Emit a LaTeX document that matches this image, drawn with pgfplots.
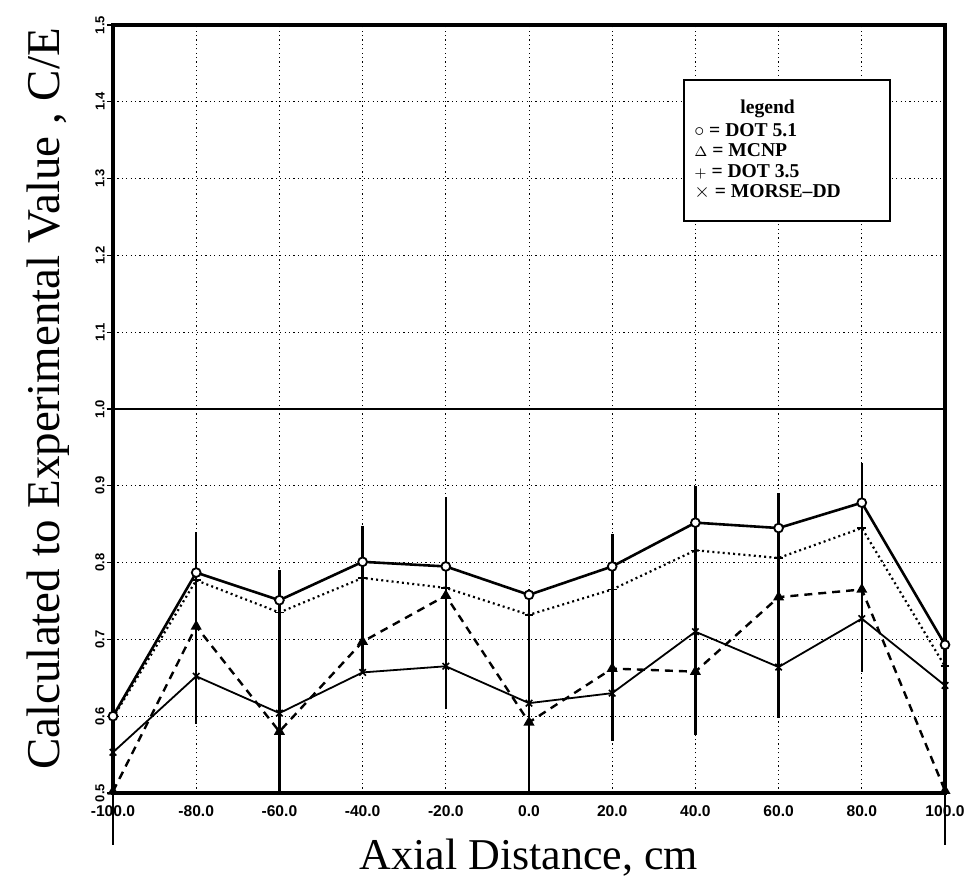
\documentclass[border=0pt]{standalone}
\usepackage{fontspec}
\setmainfont{Liberation Serif}
\newfontfamily\tickfont{Liberation Sans}
\usepackage{pgfplots}
\pgfplotsset{compat=1.18}
\begin{document}
\begin{tikzpicture}
\useasboundingbox (-56.5pt,-44.5pt) rectangle (428pt,396.5pt);
\begin{axis}[
  scale only axis, width=416pt, height=384pt,
  xmin=-100, xmax=100, ymin=0.5, ymax=1.5,
  clip=false,
  axis line style={line width=1.6pt},
  grid=major,
  grid style={black, line width=0.5pt, dash pattern=on 0.6pt off 1.6pt},
  xtick={-100,-80,-60,-40,-20,0,20,40,60,80,100},
  xticklabels={-100.0,-80.0,-60.0,-40.0,-20.0,0.0,20.0,40.0,60.0,80.0,100.0},
  ytick={0.5,0.6,0.7,0.8,0.9,1.0,1.1,1.2,1.3,1.4,1.5},
  yticklabels={0.5,0.6,0.7,0.8,0.9,1.0,1.1,1.2,1.3,1.4,1.5},
  tick pos=left,
  tick align=outside, major tick length=3pt,
  xtick style={draw=none},
  ytick style={black, line width=0.6pt},
  xticklabel style={font=\tickfont\bfseries\fontsize{7.8}{8.5}\selectfont},
  yticklabel style={font=\tickfont\bfseries\fontsize{6.5}{7}\selectfont, rotate=90, anchor=south, inner sep=1pt},
  xlabel={Axial Distance, cm},
  ylabel={Calculated to Experimental Value , C/E},
  xlabel style={at={([yshift=-38.5pt]axis description cs:0.5,0)}, anchor=base, font=\fontsize{22}{26}\selectfont},
  ylabel style={at={([xshift=-26.5pt,yshift=5pt]axis description cs:0,0.5)}, anchor=base, font=\fontsize{23.5}{28}\selectfont},
]
% reference line at C/E = 1
\addplot[line width=0.9pt, mark=none, forget plot] coordinates {(-100,1.0) (100,1.0)};
% uncertainty bars (lower end, length)
\addplot[draw=none, mark=none, forget plot,
  error bars/.cd, y dir=plus, y explicit, error mark=none,
  error bar style={line width=1.3pt, solid}] coordinates {
(-80,0.590) +- (0,0.250)
(-60,0.500) +- (0,0.290)
(-40,0.655) +- (0,0.193)
(-20,0.610) +- (0,0.276)
(0,0.500) +- (0,0.265)
(20,0.568) +- (0,0.269)
(40,0.576) +- (0,0.324)
(60,0.598) +- (0,0.292)
(80,0.658) +- (0,0.272)
};
% MORSE-DD
\addplot[black, line width=0.9pt, mark=x, mark size=2.3pt, mark options={solid, line width=0.8pt}] coordinates {
(-100,0.553) (-80,0.652) (-60,0.604) (-40,0.657) (-20,0.665) (0,0.617) (20,0.630) (40,0.710) (60,0.664) (80,0.727) (100,0.640)
};
% DOT 3.5
\addplot[black, line width=1.1pt, dash pattern=on 1pt off 1.6pt, mark=+, mark size=2.2pt, mark options={solid, line width=0.8pt}] coordinates {
(-100,0.598) (-80,0.777) (-60,0.735) (-40,0.780) (-20,0.767) (0,0.732) (20,0.765) (40,0.816) (60,0.806) (80,0.845) (100,0.665)
};
% MCNP
\addplot[black, line width=1.2pt, dash pattern=on 4pt off 3pt, mark=triangle*, mark size=2pt, mark options={solid}] coordinates {
(-100,0.502) (-80,0.717) (-60,0.580) (-40,0.697) (-20,0.757) (0,0.592) (20,0.662) (40,0.658) (60,0.755) (80,0.765) (100,0.503)
};
% DOT 5.1
\addplot[black, line width=1.3pt, mark=*, mark size=2.2pt, mark options={solid, fill=white, line width=0.9pt}] coordinates {
(-100,0.600) (-80,0.787) (-60,0.751) (-40,0.801) (-20,0.795) (0,0.758) (20,0.795) (40,0.852) (60,0.845) (80,0.878) (100,0.693)
};
% long outer ticks at the axis ends
\draw[line width=1pt] (axis cs:-100,0.5) -- ([yshift=-26pt]axis cs:-100,0.5);
\draw[line width=1pt] (axis cs:100,0.5) -- ([yshift=-26pt]axis cs:100,0.5);
% legend box
\node[draw, fill=white, line width=1pt, minimum width=103pt, minimum height=70.5pt, anchor=north west, inner sep=0pt] at (axis cs:37,1.43) {};
\node[anchor=north west, inner sep=0pt, font=\bfseries\fontsize{9.8}{10.3}\selectfont] at ([xshift=5.5pt,yshift=-10pt]axis cs:37,1.43) {%
\begin{tabular}{@{}l@{}}
\multicolumn{1}{@{}c@{}}{legend}\\[1pt]
$\circ$ = DOT 5.1\\
{\scriptsize$\Delta$} = MCNP\\
{\scriptsize$+$} = DOT 3.5\\
$\times$ = MORSE--DD
\end{tabular}};
\end{axis}
\end{tikzpicture}
\end{document}
